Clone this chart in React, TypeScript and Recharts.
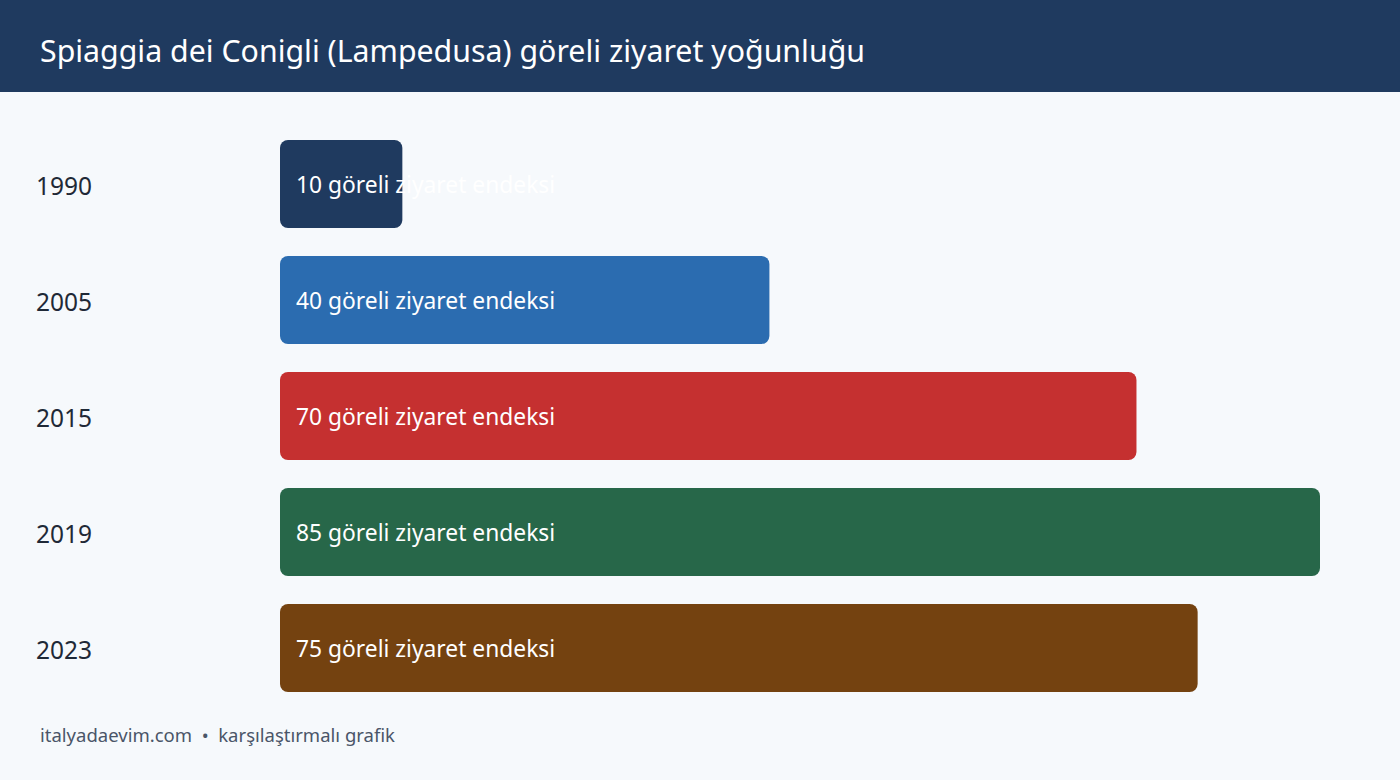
import React from "react";
import { BarChart, Bar, XAxis, YAxis, Cell, LabelList } from "recharts";

const years = ["1990", "2005", "2015", "2019", "2023"];
const values = [10, 40, 70, 85, 75];
const colors = ["#1f3a5f", "#2b6cb0", "#c53030", "#276749", "#744210"];
const unit = "göreli ziyaret endeksi";
const title = "Spiaggia dei Conigli (Lampedusa) göreli ziyaret yoğunluğu";
const footer = "italyadaevim.com  •  karşılaştırmalı grafik";

const data = years.map((y, i) => ({ year: y, value: values[i], color: colors[i] }));

const FONT = "'Noto Sans', 'Open Sans', sans-serif";

const YearTick = (props: any) => {
  const { y, payload } = props;
  return (
    <text x={36} y={Number(y) + 1} fill="#1f2937" fontSize={24.5} fontFamily={FONT} dominantBaseline="central" textAnchor="start">
      {payload.value}
    </text>
  );
};

const BarLabel = (props: any) => {
  const { x, y, height, value } = props;
  return (
    <text x={Number(x) + 16} y={Number(y) + Number(height) / 2} fill="#ffffff" fontSize={22.8} fontFamily={FONT} dominantBaseline="central" textAnchor="start">
      {`${value} ${unit}`}
    </text>
  );
};

export default function App() {
  return (
    <div style={{ position: "fixed", left: 0, top: 0, width: 1400, height: 780, background: "#f6f9fc", fontFamily: FONT, overflow: "hidden" }}>
      <div style={{ position: "absolute", left: 0, top: 0, width: 1400, height: 92, background: "#1f3a5f" }}>
        <div style={{ position: "absolute", left: 40, top: 5, height: 92, lineHeight: "92px", color: "#ffffff", fontSize: 30.3, whiteSpace: "nowrap" }}>
          {title}
        </div>
      </div>
      <div style={{ position: "absolute", left: 0, top: 0 }}>
        <BarChart
          width={1400}
          height={780}
          data={data}
          layout="vertical"
          margin={{ top: 126, right: 80, bottom: 74, left: 36 }}
          barSize={88}
        >
          <XAxis type="number" domain={[0, 85]} hide />
          <YAxis type="category" dataKey="year" width={244} axisLine={false} tickLine={false} tick={<YearTick />} />
          <Bar dataKey="value" isAnimationActive={false} radius={8}>
            {data.map((d) => (
              <Cell key={d.year} fill={d.color} />
            ))}
            <LabelList dataKey="value" content={<BarLabel />} />
          </Bar>
        </BarChart>
      </div>
      <div style={{ position: "absolute", left: 40, top: 722, color: "#4a5568", fontSize: 18.5, whiteSpace: "pre" }}>
        {footer}
      </div>
    </div>
  );
}
